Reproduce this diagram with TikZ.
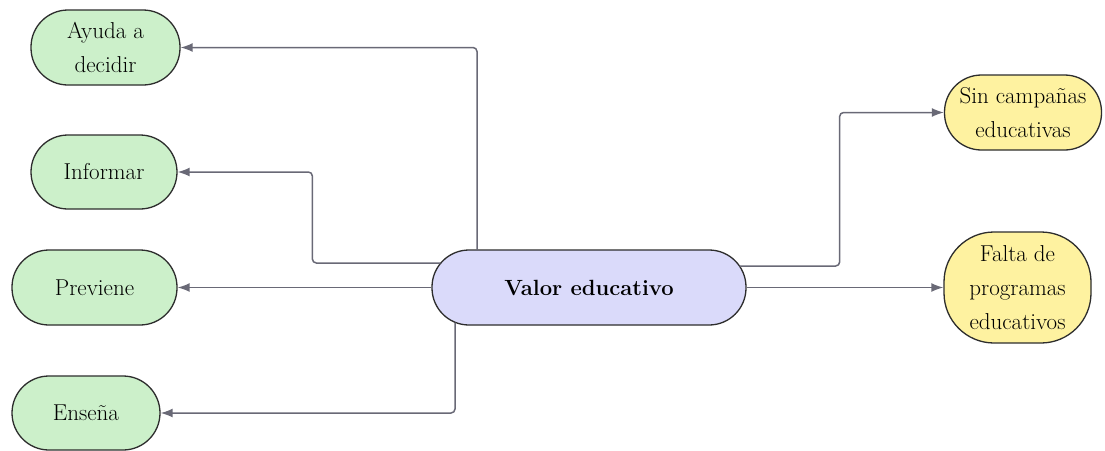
\documentclass[tikz,border=0pt]{standalone}
\usetikzlibrary{arrows.meta,calc}
\definecolor{ngreen}{RGB}{204,240,202}
\definecolor{nblue}{RGB}{218,218,250}
\definecolor{nyellow}{RGB}{254,242,160}
\definecolor{nborder}{RGB}{45,45,45}
\definecolor{conncol}{RGB}{105,105,118}
\tikzset{
  box/.style={draw=nborder, line width=1.3pt, align=center, inner sep=0pt,
    font=\fontsize{23}{34}\selectfont},
  greenbox/.style={box, fill=ngreen},
  bluebox/.style={box, fill=nblue},
  yellowbox/.style={box, fill=nyellow},
  conn/.style={draw=conncol, line width=1.5pt, rounded corners=4pt,
    -{Latex[length=12pt,width=9pt]}},
}
\begin{document}
\begin{tikzpicture}[x=1pt,y=-1pt]
\useasboundingbox (0,0) rectangle (1105,450);
\node[greenbox, minimum width=149pt, minimum height=75pt, rounded corners=37pt] (ayuda) at (105.5,47.5) {Ayuda a\\decidir};
\node[greenbox, minimum width=146pt, minimum height=74pt, rounded corners=37pt] (inform) at (104,172) {Informar};
\node[greenbox, minimum width=165pt, minimum height=75pt, rounded corners=37pt] (prev) at (94.5,287.5) {Previene};
\node[greenbox, minimum width=148pt, minimum height=74pt, rounded corners=37pt] (ense) at (86,413) {Enseña};
\node[bluebox, minimum width=314pt, minimum height=75pt, rounded corners=37pt, font=\fontsize{22}{34}\selectfont\bfseries] (valor) at (589,287.5) {Valor educativo};
\node[yellowbox, minimum width=157pt, minimum height=75pt, rounded corners=37pt] (sin) at (1023,112.5) {Sin campañas\\educativas};
\node[yellowbox, minimum width=147pt, minimum height=111pt, rounded corners=50pt] (falta) at (1017.5,287.5) {Falta de\\programas\\educativos};

\draw[conn] ([xshift=-112pt,yshift=-1pt]valor.north) |- (ayuda.east);
\draw[conn] ([xshift=9pt,yshift=24.5pt]valor.west) -- ++(-128,0) |- (inform.east);
\draw[conn] (valor.west) -- (prev.east);
\draw[conn] ([xshift=-134pt,yshift=3pt]valor.south) |- (ense.east);
\draw[conn] ([xshift=-7pt,yshift=21.5pt]valor.east) -- ++(100,0) |- (sin.west);
\draw[conn] (valor.east) -- (falta.west);
\end{tikzpicture}
\end{document}
